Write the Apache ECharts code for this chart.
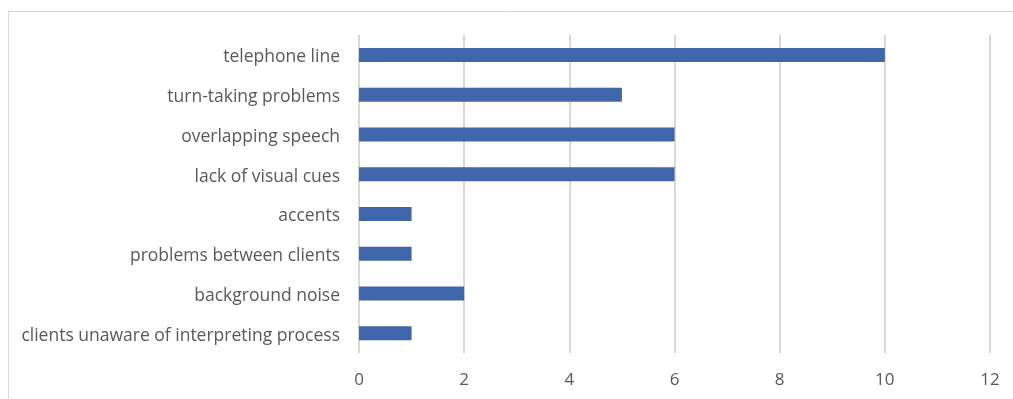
<!DOCTYPE html>
<html>
<head>
<meta charset="utf-8">
<script src="https://cdn.jsdelivr.net/npm/echarts@6/dist/echarts.min.js"></script>
<style>html,body{margin:0;padding:0;background:#fff;}#c{width:1013px;height:399px;}</style>
</head>
<body>
<div id="c"></div>
<script>
const categories = [
  "telephone line",
  "turn-taking problems",
  "overlapping speech",
  "lack of visual cues",
  "accents",
  "problems between clients",
  "background noise",
  "clients unaware of interpreting process"
];
const values = [10, 5, 6, 6, 1, 1, 2, 1];
const xTicks = { min: 0, max: 12, interval: 2 };

const chart = echarts.init(document.getElementById('c'), null, { renderer: 'canvas' });
chart.setOption({
  animation: false,
  backgroundColor: '#ffffff',
  graphic: [{
    type: 'rect',
    shape: { x: 8.5, y: 11.5, width: 1020, height: 400 },
    style: { fill: 'none', stroke: '#d9d9d9', lineWidth: 1 },
    silent: true
  }],
  grid: { left: 359, right: 23, top: 35, bottom: 46, containLabel: false },
  xAxis: {
    type: 'value',
    min: xTicks.min, max: xTicks.max, interval: xTicks.interval,
    axisLine: { show: false },
    axisTick: { show: false },
    splitLine: { show: true, lineStyle: { color: '#d9d9d9', width: 2 } },
    axisLabel: { color: '#595959', fontSize: 17, fontFamily: 'Open Sans', margin: 19 }
  },
  yAxis: {
    type: 'category',
    data: categories,
    inverse: true,
    axisLine: { show: false },
    axisTick: { show: false },
    axisLabel: { color: '#595959', fontSize: 17.5, fontFamily: 'Open Sans', margin: 19, verticalAlign: 'top', lineHeight: 5 }
  },
  series: [{
    type: 'bar',
    data: values,
    barWidth: 14,
    itemStyle: { color: '#3f65ab' }
  }]
});
</script>
</body>
</html>
